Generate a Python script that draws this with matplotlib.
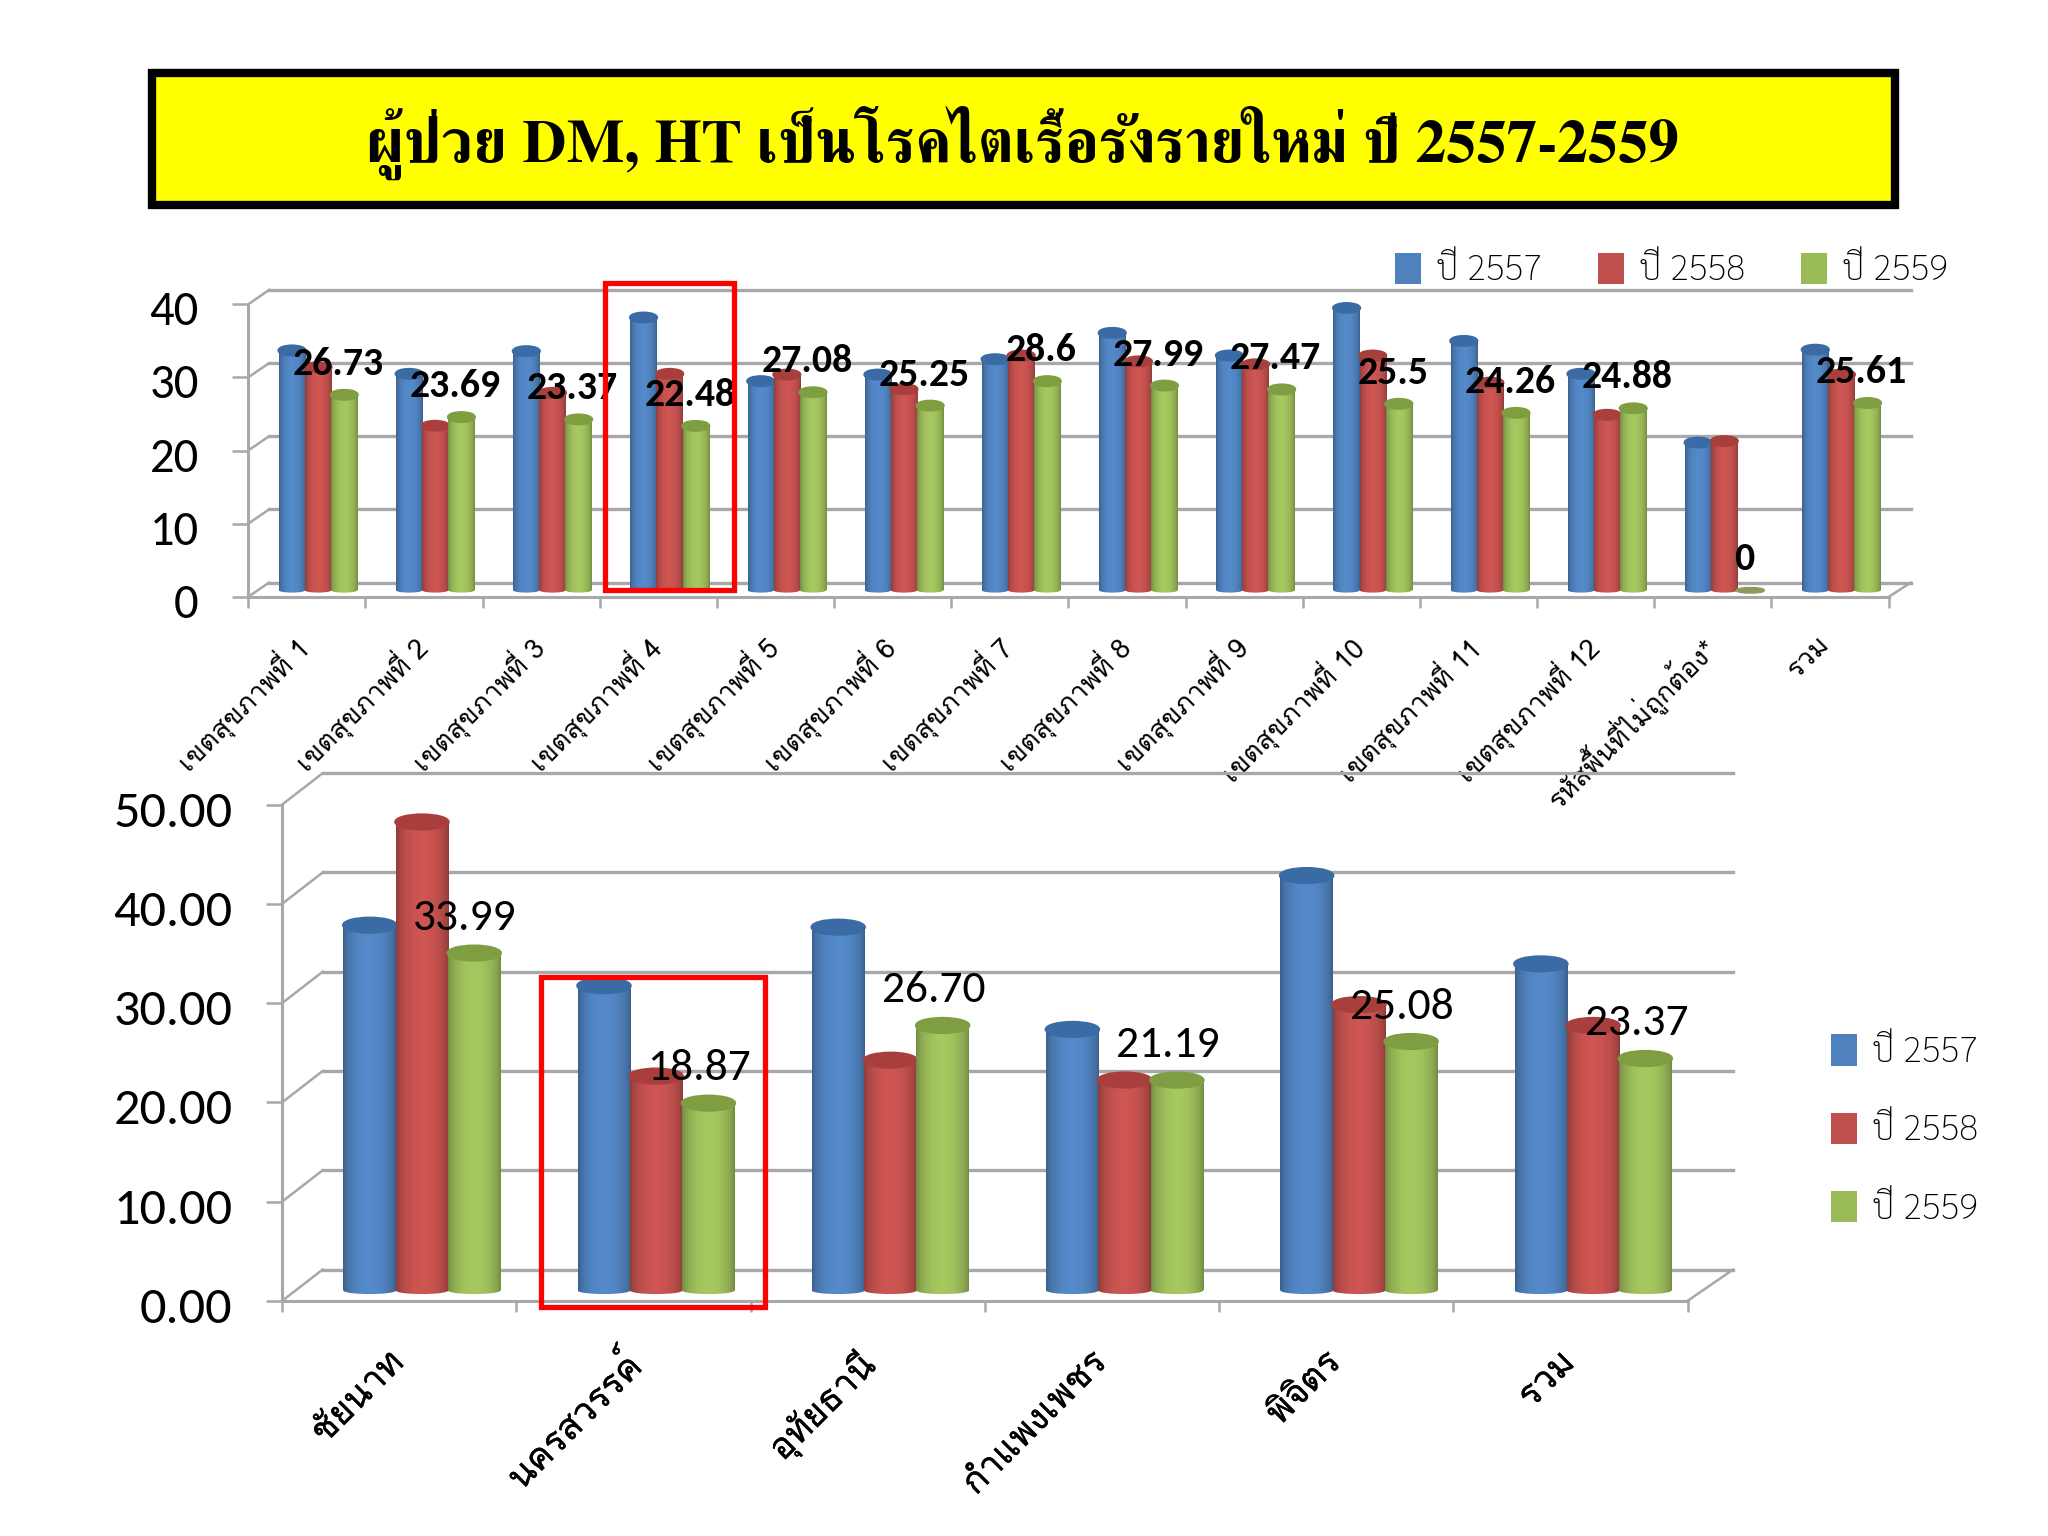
import numpy as np
import matplotlib
matplotlib.use('Agg')
import matplotlib.pyplot as plt
from matplotlib.patches import Rectangle, Ellipse, Patch
from matplotlib.colors import to_rgb
from matplotlib.transforms import ScaledTranslation
import matplotlib.patheffects as pe
import logging
logging.getLogger('matplotlib.font_manager').setLevel(logging.ERROR)

title_text = 'ผู้ป่วย DM, HT เป็นโรคไตเรื้อรังรายใหม่ ปี 2557-2559'
series_names = ['ปี 2557', 'ปี 2558', 'ปี 2559']

regions = ['เขตสุขภาพที่ 1', 'เขตสุขภาพที่ 2', 'เขตสุขภาพที่ 3', 'เขตสุขภาพที่ 4',
           'เขตสุขภาพที่ 5', 'เขตสุขภาพที่ 6', 'เขตสุขภาพที่ 7', 'เขตสุขภาพที่ 8',
           'เขตสุขภาพที่ 9', 'เขตสุขภาพที่ 10', 'เขตสุขภาพที่ 11', 'เขตสุขภาพที่ 12',
           'รหัสพื้นที่ไม่ถูกต้อง*', 'รวม']
region_2557 = [32.8, 29.6, 32.7, 37.3, 28.6, 29.5, 31.6, 35.2, 32.1, 38.6, 34.1, 29.6, 20.2, 32.9]
region_2558 = [30.5, 22.5, 27.0, 29.6, 29.5, 27.5, 32.1, 31.3, 30.9, 32.1, 28.4, 24.0, 20.4, 29.5]
region_2559 = [26.73, 23.69, 23.37, 22.48, 27.08, 25.25, 28.6, 27.99, 27.47, 25.5, 24.26, 24.88, 0, 25.61]
region_labels = ['26.73', '23.69', '23.37', '22.48', '27.08', '25.25', '28.6', '27.99',
                 '27.47', '25.5', '24.26', '24.88', '0', '25.61']

provinces = ['ชัยนาท', 'นครสวรรค์', 'อุทัยธานี', 'กำแพงเพชร', 'พิจิตร', 'รวม']
province_2557 = [36.8, 30.7, 36.6, 26.3, 41.8, 32.9]
province_2558 = [47.2, 21.6, 23.2, 21.2, 28.8, 26.7]
province_2559 = [33.99, 18.87, 26.70, 21.19, 25.08, 23.37]
province_labels = ['33.99', '18.87', '26.70', '21.19', '25.08', '23.37']

colors = ['#4F81BD', '#C0504D', '#9BBB59']
tops = ['#3A6BA5', '#A83F3C', '#7F9E42']
GRID = '#A8A8A8'
W, H = 1568.0, 1176.0
UI = ['Carlito', 'Lato', 'DejaVu Sans']
THAI = ['Loma', 'Noto Sans Thai', 'DejaVu Sans']
LEG = ['Sarabun', 'Noto Sans Thai', 'DejaVu Sans']

fig = plt.figure(figsize=(10.24, 7.68), dpi=200, facecolor='white')


def fx(x):
    return x / W


def fy(y):
    return 1 - y / H


def frame(x0, y0, x1, y1, **kw):
    fig.add_artist(Rectangle((fx(x0), fy(y1)), fx(x1) - fx(x0), fy(y0) - fy(y1),
                             transform=fig.transFigure, **kw))


def gradient(color):
    t = np.linspace(-1, 1, 64)
    k = 0.74 + 0.33 * (1 - t ** 2) ** 0.7
    return np.clip(np.outer(k, to_rgb(color)), 0, 1)[None, :, :]


def chart(box, series, labels, cats, ymax, step, fmt, dx, dy, base, eh, right,
          tick_fs, lab_fs, lab_bold, lab_off, cat_fs, cat_pad, cat_stroke, cat_shift):
    l, t, r, b = box
    ax = fig.add_axes([fx(l), fy(b), fx(r) - fx(l), fy(t) - fy(b)], facecolor='none')
    n = len(cats)
    ticks = np.arange(0, ymax + step, step)
    # 3-D wall
    for v in ticks:
        ax.plot([0, dx], [v, v + dy], color=GRID, lw=0.9, clip_on=False, zorder=1)
        ax.plot([dx, n + right], [v + dy, v + dy], color=GRID, lw=1.2, clip_on=False, zorder=1)
    ax.plot([n, n + right], [0, dy], color=GRID, lw=0.9, clip_on=False, zorder=1)
    # cylinders
    offs = [0.374, 0.597, 0.82]
    width = 0.225
    for s, vals in enumerate(series):
        xs = np.arange(n) + offs[s]
        bars = ax.bar(xs, vals, width, bottom=base, color=colors[s], zorder=3 + s, linewidth=0)
        for x, v, bar in zip(xs, vals, bars):
            if v > 0:
                foot = Ellipse((x, base), width, eh * 0.5, facecolor='none', edgecolor='none',
                               zorder=3 + s, clip_on=False)
                ax.add_patch(foot)
                im0 = ax.imshow(gradient(colors[s]), extent=[x - width / 2, x + width / 2, base - eh, base],
                                aspect='auto', zorder=3.05 + s, interpolation='bilinear')
                im0.set_clip_path(foot)
                im = ax.imshow(gradient(colors[s]), extent=[x - width / 2, x + width / 2, base, base + v],
                               aspect='auto', zorder=3.1 + s, interpolation='bilinear')
                im.set_clip_path(bar)
                ax.add_patch(Ellipse((x, base + v), width, eh, color=tops[s], zorder=3.2 + s, clip_on=False))
            else:
                ax.add_patch(Ellipse((x, base + v), width, eh * 0.45, color='#8A9A60',
                                     zorder=3.2 + s, clip_on=False))
    # data labels
    xs = np.arange(n) + offs[2]
    for x, v, s in zip(xs, series[2], labels):
        ax.annotate(s, (x, base + v), xytext=lab_off, textcoords='offset pixels',
                    ha='center', va='center', fontsize=lab_fs, family=UI,
                    fontweight='bold' if lab_bold else 'normal', color='black',
                    zorder=10, annotation_clip=False)
    ax.set_xlim(0, n)
    ax.set_ylim(0, ymax)
    for k in ('top', 'right'):
        ax.spines[k].set_visible(False)
    for k in ('left', 'bottom'):
        ax.spines[k].set_color(GRID)
        ax.spines[k].set_linewidth(1.1)
        ax.spines[k].set_zorder(2)
    ax.set_yticks(ticks)
    ax.set_yticklabels([fmt % v for v in ticks], fontsize=tick_fs, family=UI)
    ax.tick_params(axis='y', length=5.8, width=0.9, color=GRID, pad=12)
    ax.set_xticks(np.arange(n + 1))
    ax.set_xticklabels([])
    ax.tick_params(axis='x', which='major', length=4, width=0.9, color=GRID)
    ax.set_xticks(np.arange(n) + 0.5 - cat_shift, minor=True)
    catlabs = ax.set_xticklabels(cats, minor=True, rotation=45, ha='right', va='top',
                                 rotation_mode='anchor', fontsize=cat_fs, family=THAI)
    if cat_stroke > 0:
        for lab in catlabs:
            lab.set_path_effects([pe.withStroke(linewidth=cat_stroke, foreground='black')])
    ax.tick_params(axis='x', which='minor', length=0, pad=cat_pad)
    drop = ScaledTranslation(0, -4 / 200, fig.dpi_scale_trans)
    for lab in ax.get_yticklabels():
        lab.set_transform(lab.get_transform() + drop)
    return ax


# Title box
frame(116, 56, 1451, 157, facecolor='#FFFF00', edgecolor='black', linewidth=3.0)
fig.text(fx(783), fy(109), title_text, ha='center', va='center', fontsize=21.9,
         fontweight='bold', family=['FreeSerif', 'DejaVu Serif'], color='black')

ax1 = chart((190, 233, 1446, 457), [region_2557, region_2558, region_2559], region_labels, regions,
            40, 10, '%d', 0.178, 1.96, 0.9, 1.25, 0.19,
            17.5, 14.3, True, (-6, 31), 9.8, 12.1, 0, 0.12)
ax2 = chart((216, 616, 1292, 996), [province_2557, province_2558, province_2559], province_labels, provinces,
            50, 10, '%.2f', 0.173, 3.16, 1.05, 1.45, 0.195,
            18.8, 16.4, False, (-9, 35), 13, 16.4, 0.12, 0.05)

handles = [Patch(facecolor=c, edgecolor='none') for c in colors]
leg_kw = dict(frameon=False, handlelength=0.75, handleheight=1.0, handletextpad=0.42,
              borderpad=0, borderaxespad=0, bbox_transform=fig.transFigure,
              prop={'family': LEG, 'size': 12.6, 'weight': 'light'})
ax1.legend(handles, series_names, ncol=3, loc='center left', bbox_to_anchor=(fx(1068), fy(207)),
           columnspacing=1.6, **leg_kw)
ax2.legend(handles, series_names, ncol=1, loc='upper left', bbox_to_anchor=(fx(1402), fy(792)),
           labelspacing=1.22, **leg_kw)

# Red highlight frames
frame(463, 217, 562, 452, facecolor='none', edgecolor='#FF0000', linewidth=1.9, zorder=20)
frame(414, 748, 586, 1001, facecolor='none', edgecolor='#FF0000', linewidth=1.9, zorder=20)

fig.savefig('out.png', dpi=200, facecolor='white')
